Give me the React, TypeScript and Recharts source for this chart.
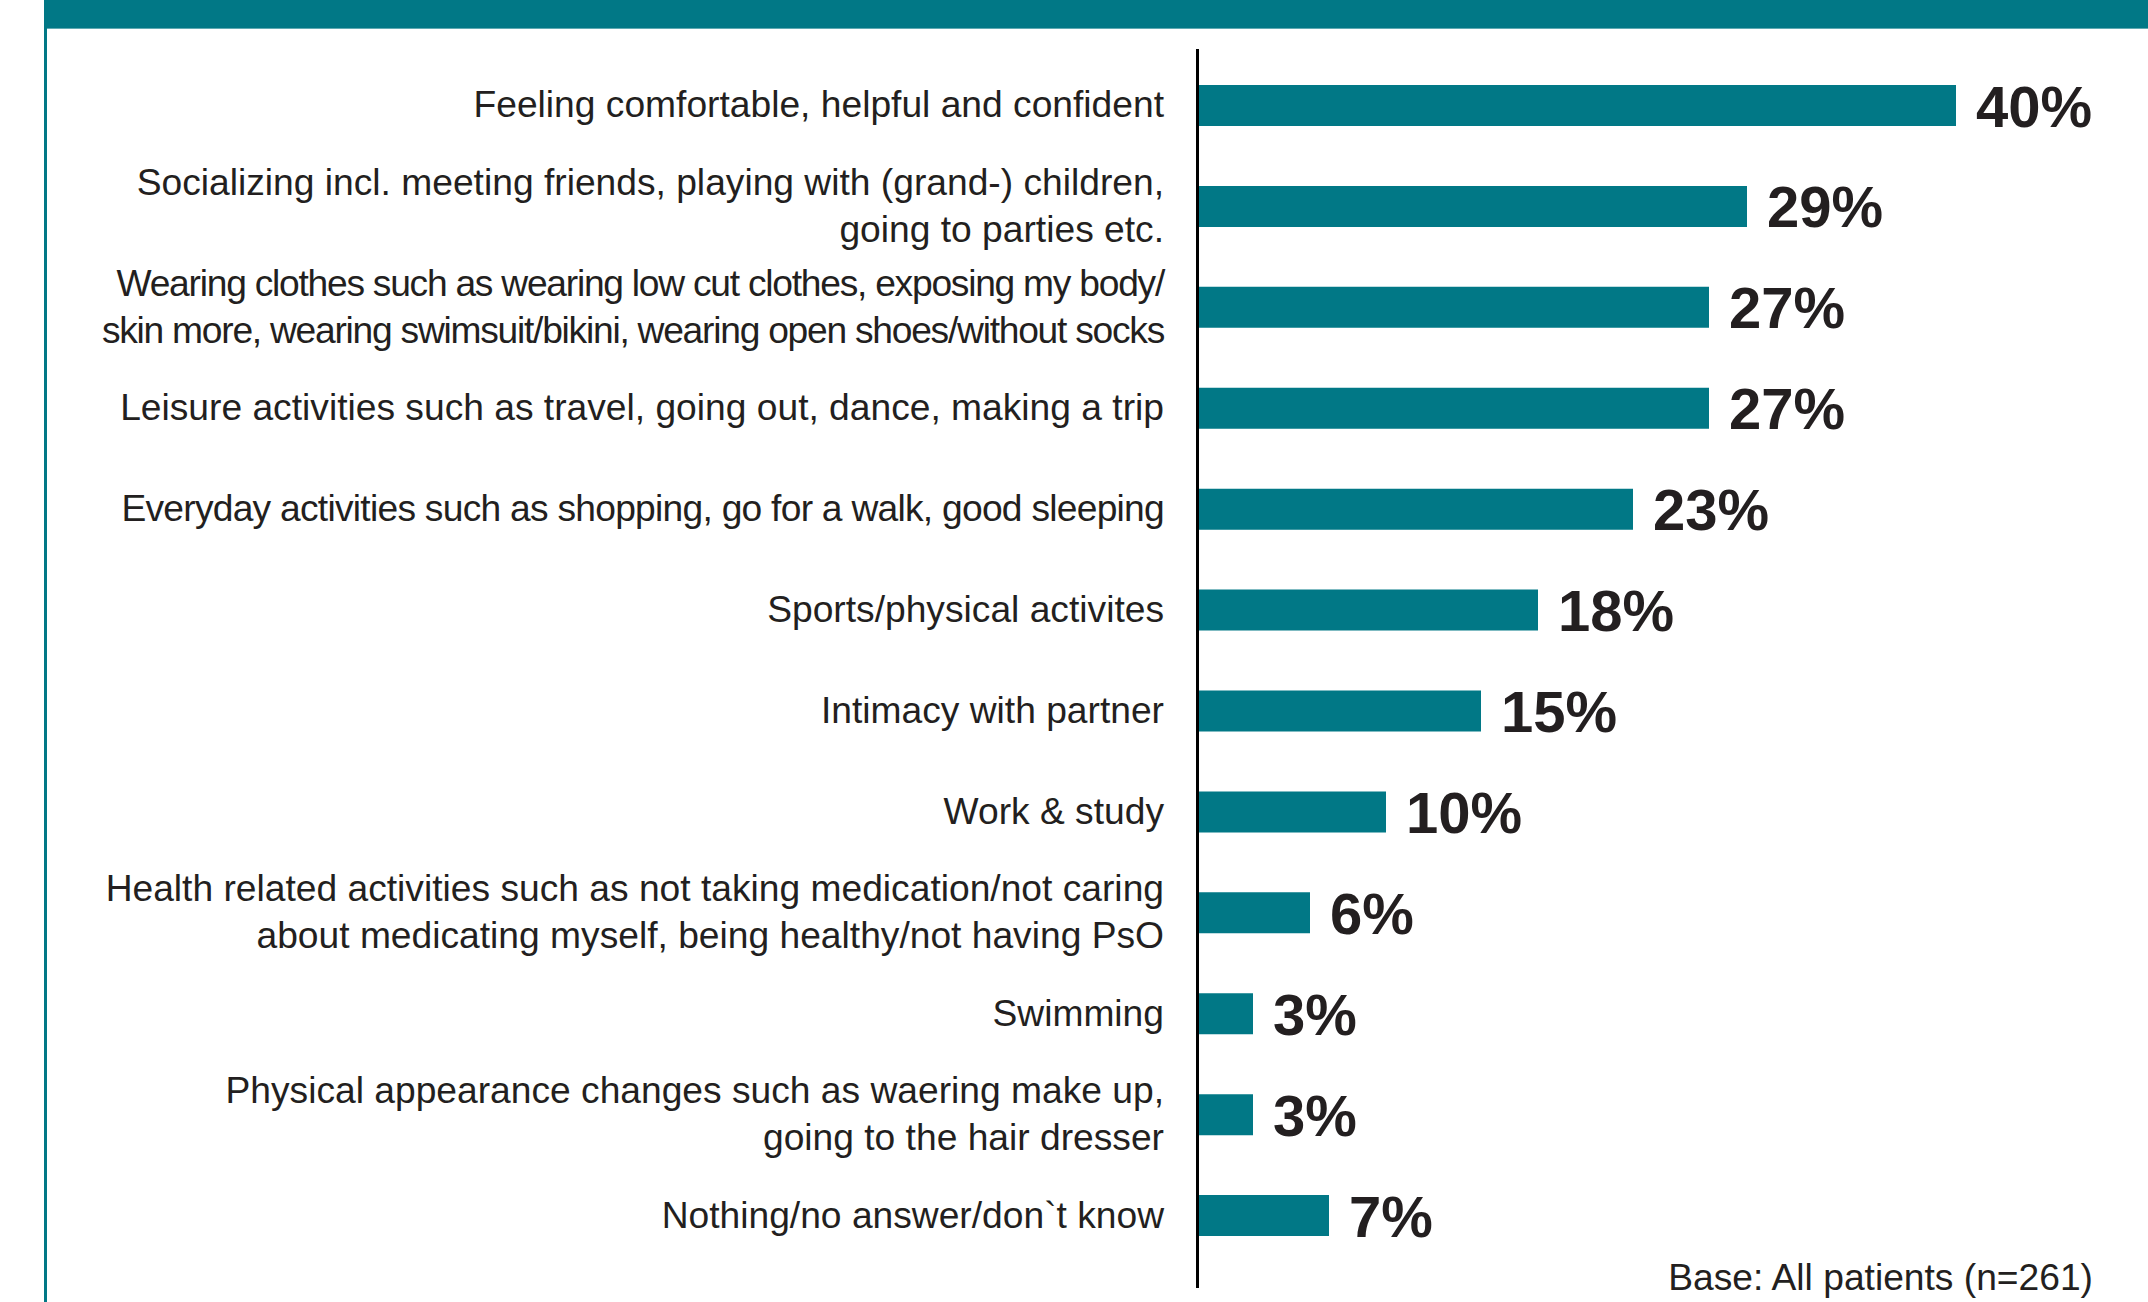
import { BarChart, Bar, XAxis, YAxis, LabelList } from 'recharts';

const categories = [
  'Feeling comfortable, helpful and confident',
  'Socializing incl. meeting friends, playing with (grand-) children,\ngoing to parties etc.',
  'Wearing clothes such as wearing low cut clothes, exposing my body/\nskin more, wearing swimsuit/bikini, wearing open shoes/without socks',
  'Leisure activities such as travel, going out, dance, making a trip',
  'Everyday activities such as shopping, go for a walk, good sleeping',
  'Sports/physical activites',
  'Intimacy with partner',
  'Work & study',
  'Health related activities such as not taking medication/not caring\nabout medicating myself, being healthy/not having PsO',
  'Swimming',
  'Physical appearance changes such as waering make up,\ngoing to the hair dresser',
  'Nothing/no answer/don`t know',
];

const shares = [40, 29, 27, 27, 23, 18, 15, 10, 6, 3, 3, 7];

const baseNote = 'Base: All patients (n=261)';

const TEAL = '#017886';
const INK = '#231f20';
const FONT = '"Liberation Sans", Arial, Helvetica, sans-serif';

// a couple of long labels are set tighter in the original
const tracking: Record<number, number> = { 2: -1.25, 4: -0.74 };

const data = categories.map((name, i) => ({ name, value: shares[i] }));

function CategoryTick(props: any) {
  const { x, y, payload, index } = props;
  const lines: string[] = String(payload.value).split('\n');
  const lineH = 47;
  const first = y - ((lines.length - 1) * lineH) / 2 + 12;
  return (
    <text
      x={x}
      y={first}
      textAnchor="end"
      fill={INK}
      fontSize={37.2}
      fontFamily={FONT}
      letterSpacing={tracking[index] ?? 0}
    >
      {lines.map((l, i) => (
        <tspan key={i} x={x} y={first + i * lineH}>
          {l}
        </tspan>
      ))}
    </text>
  );
}

function ValueLabel(props: any) {
  const { x, y, width, height, value } = props;
  return (
    <text
      x={x + width + 20}
      y={y + height / 2 + 21}
      fill={INK}
      fontSize={58}
      fontWeight="bold"
      fontFamily={FONT}
    >
      {value}%
    </text>
  );
}

export default function App() {
  return (
    <div style={{ position: 'absolute', left: 0, top: 0, width: 2148, height: 1302, background: '#fff', overflow: 'hidden' }}>
      <div style={{ position: 'absolute', left: 44, top: 0, width: 2104, height: 28, background: TEAL }} />
      <div style={{ position: 'absolute', left: 47, top: 28, width: 2101, height: 1, background: '#5fa9b2' }} />
      <div style={{ position: 'absolute', left: 44, top: 0, width: 3, height: 1302, background: TEAL }} />

      <BarChart
        width={2148}
        height={1302}
        data={data}
        layout="vertical"
        margin={{ top: 55, right: 192, bottom: 36, left: 0 }}
        style={{ position: 'absolute', left: 0, top: 0 }}
      >
        <XAxis type="number" domain={[0, 40]} hide />
        <YAxis
          type="category"
          dataKey="name"
          width={1196}
          axisLine={false}
          tickLine={false}
          tickSize={0}
          tickMargin={32}
          interval={0}
          tick={<CategoryTick />}
        />
        <Bar dataKey="value" fill={TEAL} barSize={41} isAnimationActive={false}>
          <LabelList dataKey="value" content={<ValueLabel />} />
        </Bar>
      </BarChart>

      <div style={{ position: 'absolute', left: 1196, top: 49, width: 2.5, height: 1239, background: '#000' }} />

      <div
        style={{
          position: 'absolute',
          right: 55,
          top: 1259,
          fontFamily: FONT,
          fontSize: 37.2,
          lineHeight: '37px',
          color: INK,
          whiteSpace: 'nowrap',
        }}
      >
        {baseNote}
      </div>
    </div>
  );
}
